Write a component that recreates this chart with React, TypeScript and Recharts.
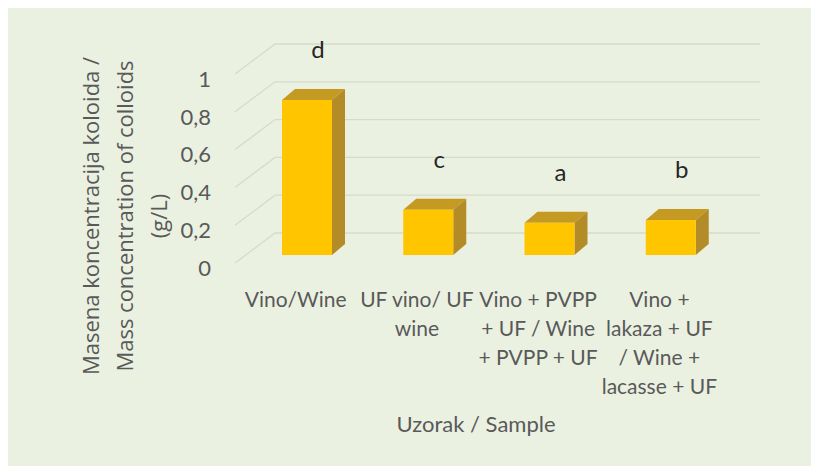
import { BarChart, Bar, XAxis, YAxis, CartesianGrid, LabelList, Customized } from 'recharts';

const categories = [
  'Vino/Wine',
  'UF vino/ UF wine',
  'Vino + PVPP + UF / Wine + PVPP + UF',
  'Vino + lakaza + UF / Wine + lacasse + UF',
];
const categoryLines = [
  ['Vino/Wine'],
  ['UF vino/ UF', 'wine'],
  ['Vino + PVPP', '+ UF / Wine', '+ PVPP + UF'],
  ['Vino +', 'lakaza + UF', '/ Wine +', 'lacasse + UF'],
];
const colloids = [0.82, 0.24, 0.17, 0.185];
const letters = ['d', 'c', 'a', 'b'];
const yTicks = [0, 0.2, 0.4, 0.6, 0.8, 1];

const data = categories.map((name, i) => ({ name, value: colloids[i], letter: letters[i] }));

// 3d look: back wall offset and bar offsets
const WALL_DX = 40;
const WALL_DY = -30;
const BAR_SHIFT_X = 11;
const BAR_SHIFT_Y = -8;
const DEPTH_DX = 13;
const DEPTH_DY = -11;

const gray = '#595959';
const tickFont = 'Lato, "Open Sans", sans-serif';

function GridLine(props: any) {
  const { x1, y1, x2 } = props;
  return (
    <path
      key={props.key}
      d={`M${x1},${y1} L${x1 + WALL_DX},${y1 + WALL_DY} L${x2 + WALL_DX},${y1 + WALL_DY}`}
      stroke="#d5dbca"
      strokeWidth={1.3}
      fill="none"
    />
  );
}

function Bar3D(props: any) {
  const { x, y, width, height } = props;
  if (!height) return null;
  const fx = x + BAR_SHIFT_X;
  const fy = y + BAR_SHIFT_Y;
  return (
    <g>
      <polygon
        points={`${fx},${fy} ${fx + DEPTH_DX},${fy + DEPTH_DY} ${fx + width + DEPTH_DX},${fy + DEPTH_DY} ${fx + width},${fy}`}
        fill="#c59a22"
      />
      <polygon
        points={`${fx + width},${fy} ${fx + width + DEPTH_DX},${fy + DEPTH_DY} ${fx + width + DEPTH_DX},${fy + height + DEPTH_DY} ${fx + width},${fy + height}`}
        fill="#b38b27"
      />
      <rect x={fx} y={fy} width={width} height={height} fill="#ffc600" />
    </g>
  );
}

function LetterLabel(props: any) {
  const { x, y, width, index } = props;
  return (
    <text
      x={x + width / 2 + BAR_SHIFT_X + 11}
      y={y - 50}
      textAnchor="middle"
      fontFamily={tickFont}
      fontSize={24}
      fill="#262626"
    >
      {letters[index]}
    </text>
  );
}

function CategoryTick(props: any) {
  const { x, y, payload } = props;
  const lines = categoryLines[payload.index] || [payload.value];
  return (
    <text x={x} y={y} textAnchor="middle" fontFamily={tickFont} fontSize={21} fill={gray}>
      {lines.map((line, i) => (
        <tspan key={i} x={x} dy={i === 0 ? 44 : 29}>
          {line}
        </tspan>
      ))}
    </text>
  );
}

function Titles() {
  const titleFont = '"Open Sans", sans-serif';
  const cy = 208;
  const lines = ['Masena koncentracija koloida /', 'Mass concentration of colloids', '(g/L)'];
  const xs = [82, 116, 150];
  return (
    <g>
      {lines.map((line, i) => (
        <text
          key={i}
          x={xs[i]}
          y={cy}
          transform={`rotate(-90 ${xs[i]} ${cy})`}
          textAnchor="middle"
          dominantBaseline="central"
          fontFamily={titleFont}
          fontSize={22}
          fill={gray}
        >
          {line}
        </text>
      ))}
      <text x={468} y={424} textAnchor="middle" fontFamily={tickFont} fontSize={22} fill={gray}>
        Uzorak / Sample
      </text>
    </g>
  );
}

export default function App() {
  return (
    <div style={{ width: 803, height: 458, background: '#ebf1e1' }}>
      <BarChart
        width={803}
        height={458}
        data={data}
        margin={{ top: 66, right: 91, bottom: 173, left: 167 }}
      >
        <CartesianGrid vertical={false} horizontal={GridLine} />
        <XAxis
          dataKey="name"
          axisLine={false}
          tickLine={false}
          tickSize={0}
          tickMargin={0}
          height={30}
          interval={0}
          tick={CategoryTick}
        />
        <YAxis
          domain={[0, 1]}
          ticks={yTicks}
          width={60}
          axisLine={false}
          tickLine={false}
          tickSize={0}
          tickMargin={24}
          tickFormatter={(v: number) => String(v).replace('.', ',')}
          tick={{ fill: gray, fontSize: 22, fontFamily: tickFont, dy: 5 }}
        />
        <Bar dataKey="value" barSize={50} shape={Bar3D} isAnimationActive={false}>
          <LabelList dataKey="letter" content={LetterLabel} />
        </Bar>
        <Customized component={Titles} />
      </BarChart>
    </div>
  );
}
